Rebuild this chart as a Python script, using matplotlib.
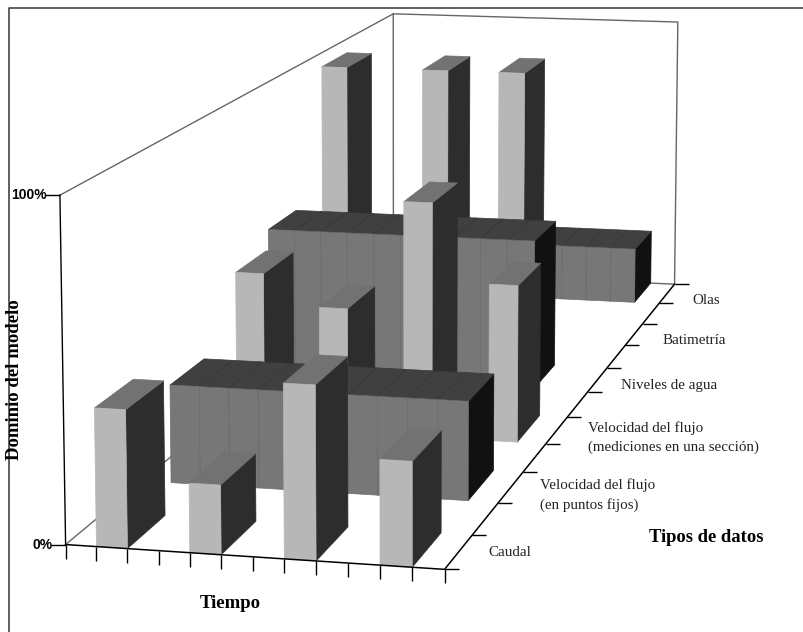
import matplotlib
matplotlib.use('Agg')
import matplotlib.pyplot as plt
from matplotlib.lines import Line2D
from matplotlib.markers import TICKDOWN, TICKLEFT, TICKRIGHT
import numpy as np

W, H = 804, 632

# datos (tiempo = casilla de la izquierda, dominio = 0 a 1)
tiempo_barras = [1, 4, 7, 10]
tiempo_puntos = [1, 2, 3, 4, 5, 6, 7, 8, 9, 10]
tiempo_niveles = [0, 1, 2, 3, 4, 5, 6, 7, 8, 9]
tiempo_batimetria = [0, 4, 7]
dominio_caudal = [0.40, 0.20, 0.50, 0.30]
dominio_puntos = [0.30, 0.30, 0.30, 0.30, 0.30, 0.30, 0.30, 0.30, 0.30, 0.30]
dominio_seccion = [0.50, 0.40, 0.75, 0.50]
dominio_niveles = [0.50, 0.50, 0.50, 0.50, 0.50, 0.50, 0.50, 0.50, 0.50, 0.50]
dominio_batimetria = [0.95, 0.95, 0.95]
dominio_olas = [0.20, 0.20, 0.20, 0.20, 0.20, 0.20, 0.20, 0.20, 0.20, 0.20]
tipos_fila = [0, 2, 4, 6, 8, 10]

# caras de bar3d: abajo, arriba, frente, atras, izquierda, derecha
nada = '#00000000'
claro = [nada, '#727272', '#b7b7b7', nada, nada, '#2d2d2d']
oscuro = [nada, '#404040', '#777777', nada, nada, '#111111']
borde_oscuro = [nada, '#393939', '#6e6e6e', nada, nada, '#111111']

fig = plt.figure(figsize=(W / 100, H / 100), dpi=100)
ax = fig.add_axes([0, 0, 1, 1], projection='3d', computed_zorder=False)
ax.apply_aspect = lambda position=None: None
ax.set_axis_off()

filas = [
    (tipos_fila[5], tiempo_puntos, dominio_olas, oscuro, borde_oscuro),
    (tipos_fila[4], tiempo_batimetria, dominio_batimetria, claro, claro),
    (tipos_fila[3], tiempo_niveles, dominio_niveles, oscuro, borde_oscuro),
    (tipos_fila[2], tiempo_barras, dominio_seccion, claro, claro),
    (tipos_fila[1], tiempo_puntos, dominio_puntos, oscuro, borde_oscuro),
    (tipos_fila[0], tiempo_barras, dominio_caudal, claro, claro),
]
z = 5
for fila, tiempos, valores, caras, bordes in filas:
    for t, v in zip(tiempos, valores):
        ax.bar3d(t, fila, 0, 1, 1, v, color=caras, edgecolors=bordes, linewidth=0.5, shade=False, zorder=z)
        z += 1

# paredes del fondo
gris = '#666666'
ax.plot([0, 0, 12, 12], [0, 11, 11, 11], [1, 1, 1, 0], color=gris, lw=1, zorder=1)
ax.plot([0, 0], [11, 11], [1, 0], color=gris, lw=1, zorder=1)
ax.plot([0, 0, 12], [0, 11, 11], [0, 0, 0], color=gris, lw=1, zorder=1)

# ejes
ax.plot([0, 0], [0, 0], [0, 1], color='black', lw=1, zorder=200)
ax.plot([0, 12, 12], [0, 0, 11], [0, 0, 0], color='black', lw=1.1, zorder=200)
ax.plot([0, 0], [0, 0], [0, 1], ls='none', marker=TICKLEFT, ms=11, mew=1, color='black', zorder=200)
ax.plot(range(13), [0] * 13, [0] * 13, ls='none', marker=TICKDOWN, ms=10, mew=1, color='black', zorder=200)
ax.plot([12] * 12, range(12), [0] * 12, ls='none', marker=TICKRIGHT, ms=10, mew=1, color='black', zorder=200)

# perspectiva: se ajusta a las esquinas de la caja en la figura original
puntos = [
    ((0, 0, 0), (65.7, 545)), ((12, 0, 0), (444, 569)), ((12, 11, 0), (674, 284)),
    ((0, 11, 0), (393.5, 271)), ((0, 0, 1), (60, 195)), ((12, 11, 1), (678, 22)),
    ((0, 11, 1), (393, 14)), ((6, 0, 0), (252.7, 556.7)), ((12, 5, 0), (567.7, 417)),
    ((12, 8, 0), (626, 345.7)),
]
A = []
for (x, y, zz), (u, v) in puntos:
    v = H - v
    A.append([x, y, zz, 1, 0, 0, 0, 0, -u * x, -u * y, -u * zz, -u])
    A.append([0, 0, 0, 0, x, y, zz, 1, -v * x, -v * y, -v * zz, -v])
P = np.linalg.svd(np.array(A))[2][-1].reshape(3, 4)
P = P / (P[2] @ np.array([6, 5, 0, 1]))
inv = ax.transData.inverted()
o = inv.transform((0, 0))
e = inv.transform((1, 1)) - o
T = np.array([[e[0], 0, o[0]], [0, e[1], o[1]], [0, 0, 1]])
P2 = T @ P
# la tercera fila da profundidad -1/w, siempre negativa (si no, mplot3d enmascara puntos)
M = np.array([P2[0], P2[1], [0, 0, 0, -1], P2[2]])
ax.get_proj = lambda: M

# textos
serif = 'Liberation Serif'
def texto(px, py, s, **kw):
    fig.text(px / W, 1 - py / H, s, family=serif, va='center', **kw)

categorias = ['Caudal', 'Velocidad del flujo\n(en puntos fijos)',
              'Velocidad del flujo\n(mediciones en una sección)',
              'Niveles de agua', 'Batimetría', 'Olas']
cat_x = [488, 540, 588, 621.5, 663, 692]
cat_y = [553, 495, 437.5, 385, 341, 301]
for s, px, py in zip(categorias, cat_x, cat_y):
    texto(px, py, s, fontsize=10.8, color='#222222', linespacing=1.6)
texto(649, 538, 'Tipos de datos', fontsize=13.4, fontweight='bold')
texto(230.5, 603, 'Tiempo', fontsize=13.5, fontweight='bold', ha='center')
texto(15, 380, 'Dominio del modelo', fontsize=13.5, fontweight='bold', rotation=90, ha='center')
fig.text(47 / W, 1 - 195 / H, '100%', family='Liberation Sans', fontsize=10, fontweight='bold', ha='right', va='center')
fig.text(53 / W, 1 - 545 / H, '0%', family='Liberation Sans', fontsize=10, fontweight='bold', ha='right', va='center')

# marco
fig.add_artist(Line2D([9 / W, 9 / W, 1], [0, 1 - 7.5 / H, 1 - 7.5 / H], color='#444444', lw=1.2))

fig.savefig('out.png', dpi=100)
